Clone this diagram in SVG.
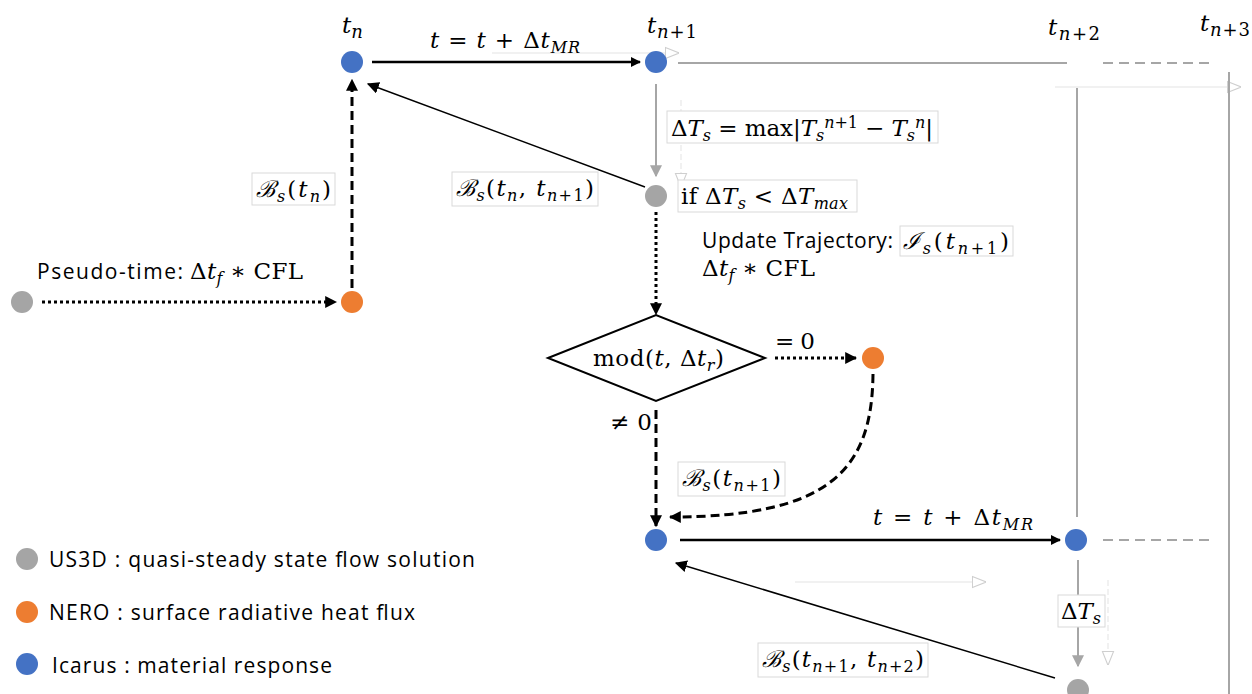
<svg xmlns="http://www.w3.org/2000/svg" width="1252" height="694" viewBox="0 0 1252 694">
<style>
.m{font-family:"DejaVu Serif","Liberation Serif",serif;font-size:23px;fill:#000}
.i{font-style:italic}
.s{font-family:"Open Sans","Liberation Sans",sans-serif;font-size:21px;fill:#000}
.box{fill:#fff;stroke:#d9d9d9;stroke-width:1}
.blue{fill:#4472c4}.orange{fill:#ed7d31}.gray{fill:#a5a5a5}
.blk{stroke:#000;fill:none}
.gl{stroke:#a6a6a6;fill:none;stroke-width:2}
.faint{stroke:#e3e3e3;fill:none;stroke-width:1}
</style>
<defs>
<marker id="ab" viewBox="0 0 10 10" refX="9" refY="5" markerWidth="4" markerHeight="4" orient="auto" markerUnits="strokeWidth"><path d="M0,0 L10,5 L0,10 z" fill="#000"/></marker>
<marker id="ab2" viewBox="0 0 10 10" refX="9" refY="5" markerWidth="8" markerHeight="8" orient="auto" markerUnits="strokeWidth"><path d="M0,0 L10,5 L0,10 z" fill="#000"/></marker>
<marker id="ag" viewBox="0 0 10 10" refX="9" refY="5" markerWidth="6" markerHeight="6" orient="auto" markerUnits="strokeWidth"><path d="M0,0 L10,5 L0,10 z" fill="#a6a6a6"/></marker>
<marker id="ah" viewBox="0 0 10 10" refX="9" refY="5" markerWidth="14" markerHeight="14" orient="auto" markerUnits="strokeWidth"><path d="M0,1 L10,5 L0,9 z" fill="#fff" stroke="#cfcfcf" stroke-width="0.8"/></marker>
</defs>

<g id="connectors">
  <line class="faint" x1="492" y1="53" x2="678" y2="53" marker-end="url(#ah)"/>
  <line class="faint" x1="1055" y1="87" x2="1240" y2="87" marker-end="url(#ah)"/>
  <line class="faint" x1="795" y1="582" x2="985" y2="582" marker-end="url(#ah)"/>
  <line class="faint" x1="681" y1="100" x2="681" y2="186" stroke-dasharray="6 3" marker-end="url(#ah)"/>
  <line class="faint" x1="1108" y1="580" x2="1108" y2="664" stroke-dasharray="6 3" marker-end="url(#ah)"/>

  <line class="blk" x1="372" y1="62" x2="640" y2="62" stroke-width="2.5" marker-end="url(#ab)"/>
  <line class="gl" x1="678" y1="63" x2="1067" y2="63"/>
  <line class="gl" x1="1103" y1="63" x2="1215" y2="63" stroke-dasharray="10 6"/>
  <line class="gl" x1="1077" y1="88" x2="1077" y2="517"/>
  <line class="gl" x1="1229" y1="72" x2="1229" y2="694"/>
  <line class="gl" x1="656" y1="84" x2="656" y2="176" marker-end="url(#ag)"/>
  <line class="blk" x1="645" y1="187" x2="368" y2="84" stroke-width="1.5" marker-end="url(#ab2)"/>
  <line class="blk" x1="42" y1="302" x2="336" y2="302" stroke-width="3" stroke-dasharray="3 3" marker-end="url(#ab)"/>
  <line class="blk" x1="352" y1="288" x2="352" y2="80" stroke-width="3" stroke-dasharray="9 5" marker-end="url(#ab)"/>
  <line class="blk" x1="656" y1="212" x2="656" y2="314" stroke-width="3" stroke-dasharray="3 3" marker-end="url(#ab)"/>
  <line class="blk" x1="775" y1="358" x2="856" y2="358" stroke-width="3" stroke-dasharray="3 3" marker-end="url(#ab)"/>
  <line class="blk" x1="656" y1="410" x2="656" y2="526" stroke-width="3" stroke-dasharray="9 5" marker-end="url(#ab)"/>
  <path class="blk" d="M873,374 C872,470 830,517 670,517" stroke-width="3" stroke-dasharray="9 5" marker-end="url(#ab)"/>
  <line class="blk" x1="680" y1="540" x2="1060" y2="540" stroke-width="2.5" marker-end="url(#ab)"/>
  <line class="gl" x1="1103" y1="540" x2="1215" y2="540" stroke-dasharray="10 6"/>
  <line class="gl" x1="1078" y1="560" x2="1078" y2="666" marker-end="url(#ag)"/>
  <line class="blk" x1="1055" y1="678" x2="676" y2="563" stroke-width="1.5" marker-end="url(#ab2)"/>
</g>

<g id="label-tn"><text class="m i" x="342" y="33" font-size="25">t<tspan font-size="18" dy="5">n</tspan></text></g>
<g id="label-tn1"><text class="m" x="647" y="33" font-size="25" textLength="50"><tspan class="i">t</tspan><tspan font-size="18" dy="5"><tspan class="i">n</tspan>+1</tspan></text></g>
<g id="label-tn2"><text class="m" x="1048" y="35" font-size="25" textLength="52"><tspan class="i">t</tspan><tspan font-size="18" dy="5"><tspan class="i">n</tspan>+2</tspan></text></g>
<g id="label-tn3"><text class="m" x="1200" y="31" font-size="25" textLength="50"><tspan class="i">t</tspan><tspan font-size="18" dy="5"><tspan class="i">n</tspan>+3</tspan></text></g>

<g id="label-step-top"><text class="m" x="430" y="48" textLength="150"><tspan class="i">t</tspan> = <tspan class="i">t</tspan> + Δ<tspan class="i">t</tspan><tspan class="i" font-size="16" dy="5">MR</tspan></text></g>
<g id="label-step-bottom"><text class="m" x="873" y="525" textLength="160"><tspan class="i">t</tspan> = <tspan class="i">t</tspan> + Δ<tspan class="i">t</tspan><tspan class="i" font-size="16" dy="5">MR</tspan></text></g>

<g id="node-tn"><circle class="blue" cx="352" cy="62" r="11"/></g>
<g id="node-tn1"><circle class="blue" cx="656" cy="62" r="11"/></g>
<g id="node-gray-left"><circle class="gray" cx="22" cy="302" r="11"/></g>
<g id="node-orange-left"><circle class="orange" cx="352" cy="302" r="11"/></g>
<g id="node-gray-mid"><circle class="gray" cx="656" cy="196" r="11"/></g>
<g id="node-orange-right"><circle class="orange" cx="873" cy="358" r="11"/></g>
<g id="node-blue-bottom"><circle class="blue" cx="656" cy="540" r="11"/></g>
<g id="node-blue-right"><circle class="blue" cx="1076" cy="540" r="11"/></g>
<g id="node-gray-bottom"><circle class="gray" cx="1078" cy="690" r="11"/></g>

<g id="label-dTs">
  <rect class="box" x="667" y="111" width="271" height="32"/>
  <text class="m" x="671" y="136" textLength="262">Δ<tspan class="i">T</tspan><tspan class="i" font-size="16" dy="5">s</tspan><tspan dy="-5"> = max|</tspan><tspan class="i">T</tspan><tspan class="i" font-size="16" dy="5">s</tspan><tspan font-size="16" dy="-13"><tspan class="i">n</tspan>+1</tspan><tspan dy="8"> − </tspan><tspan class="i">T</tspan><tspan class="i" font-size="16" dy="5">s</tspan><tspan class="i" font-size="16" dy="-13">n</tspan><tspan dy="8">|</tspan></text>
</g>
<g id="label-if">
  <rect class="box" x="678" y="180" width="179" height="32"/>
  <text class="m" x="681" y="204" textLength="167">if Δ<tspan class="i">T</tspan><tspan class="i" font-size="16" dy="5">s</tspan><tspan dy="-5"> &lt; Δ</tspan><tspan class="i">T</tspan><tspan class="i" font-size="16" dy="5">max</tspan></text>
</g>
<g id="label-update">
  <text class="s" x="702" y="248" textLength="191">Update Trajectory:</text>
  <rect class="box" x="900" y="226" width="113" height="30"/>
  <text class="m" x="903" y="249" textLength="106"><tspan class="i">ℐ</tspan><tspan class="i" font-size="16" dy="5">s</tspan><tspan dy="-5">(</tspan><tspan class="i">t</tspan><tspan font-size="16" dy="5"><tspan class="i">n</tspan>+1</tspan><tspan dy="-5">)</tspan></text>
  <text class="m" x="702" y="276" textLength="113">Δ<tspan class="i">t</tspan><tspan class="i" font-size="16" dy="5">f</tspan><tspan dy="-5">   ∗ CFL</tspan></text>
</g>
<g id="label-Bs-tn-tn1">
  <rect class="box" x="452" y="172" width="146" height="34"/>
  <text class="m" x="456" y="196" textLength="138"><tspan class="i">ℬ</tspan><tspan class="i" font-size="16" dy="5">s</tspan><tspan dy="-5">(</tspan><tspan class="i">t</tspan><tspan class="i" font-size="16" dy="5">n</tspan><tspan dy="-5">, </tspan><tspan class="i">t</tspan><tspan font-size="16" dy="5"><tspan class="i">n</tspan>+1</tspan><tspan dy="-5">)</tspan></text>
</g>
<g id="label-Bs-tn">
  <rect class="box" x="252" y="173" width="83" height="32"/>
  <text class="m" x="256" y="197" textLength="75"><tspan class="i">ℬ</tspan><tspan class="i" font-size="16" dy="5">s</tspan><tspan dy="-5">(</tspan><tspan class="i">t</tspan><tspan class="i" font-size="16" dy="5">n</tspan><tspan dy="-5">)</tspan></text>
</g>
<g id="label-pseudo">
  <text class="s" x="37" y="279" textLength="146">Pseudo-time:</text>
  <text class="m" x="190" y="279" textLength="113">Δ<tspan class="i">t</tspan><tspan class="i" font-size="16" dy="5">f</tspan><tspan dy="-5">   ∗ CFL</tspan></text>
</g>
<g id="node-diamond">
  <polygon points="548,358 656,315 765,358 656,401" fill="#fff" stroke="#000" stroke-width="2"/>
  <text class="m" x="593" y="366" textLength="131">mod(<tspan class="i">t</tspan>, Δ<tspan class="i">t</tspan><tspan class="i" font-size="16" dy="5">r</tspan><tspan dy="-5">)</tspan></text>
</g>
<g id="label-eq0"><text class="m" x="775" y="349" textLength="40">= 0</text></g>
<g id="label-neq0"><text class="m" x="610" y="430" textLength="42">≠ 0</text></g>
<g id="label-Bs-tn1">
  <rect class="box" x="678" y="462" width="107" height="34"/>
  <text class="m" x="682" y="486" textLength="99"><tspan class="i">ℬ</tspan><tspan class="i" font-size="16" dy="5">s</tspan><tspan dy="-5">(</tspan><tspan class="i">t</tspan><tspan font-size="16" dy="5"><tspan class="i">n</tspan>+1</tspan><tspan dy="-5">)</tspan></text>
</g>
<g id="label-dTs2">
  <rect class="box" x="1058" y="595" width="47" height="32"/>
  <text class="m" x="1061" y="619" textLength="40">Δ<tspan class="i">T</tspan><tspan class="i" font-size="16" dy="5">s</tspan></text>
</g>
<g id="label-Bs-tn1-tn2">
  <rect class="box" x="758" y="643" width="170" height="34"/>
  <text class="m" x="762" y="667" textLength="162"><tspan class="i">ℬ</tspan><tspan class="i" font-size="16" dy="5">s</tspan><tspan dy="-5">(</tspan><tspan class="i">t</tspan><tspan font-size="16" dy="5"><tspan class="i">n</tspan>+1</tspan><tspan dy="-5">, </tspan><tspan class="i">t</tspan><tspan font-size="16" dy="5"><tspan class="i">n</tspan>+2</tspan><tspan dy="-5">)</tspan></text>
</g>

<g id="legend">
  <circle class="gray" cx="27" cy="559" r="11"/>
  <text class="s" x="49" y="567" textLength="426">US3D : quasi-steady state flow solution</text>
  <circle class="orange" cx="27" cy="612" r="11"/>
  <text class="s" x="49" y="620" textLength="366">NERO : surface radiative heat flux</text>
  <circle class="blue" cx="27" cy="664" r="11"/>
  <text class="s" x="52" y="673" textLength="280">Icarus : material response</text>
</g>
</svg>
